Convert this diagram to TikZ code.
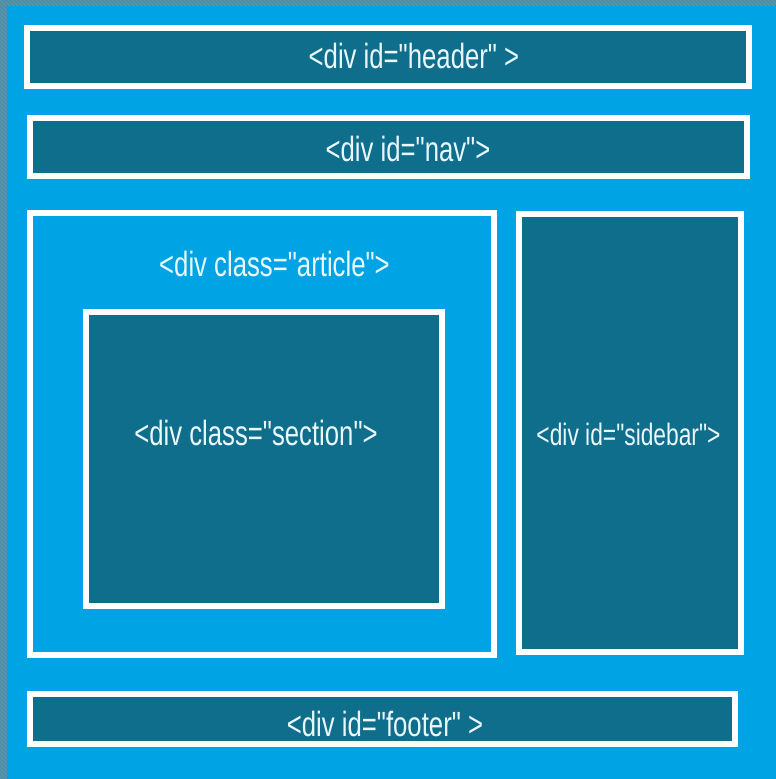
\documentclass[tikz,border=0pt]{standalone}
\usepackage{fontspec}
\newfontfamily\agency[FakeStretch=0.735]{Liberation Sans}
\definecolor{bgblue}{HTML}{00A3E3}
\definecolor{darkteal}{HTML}{0F6E8B}
\definecolor{stripe}{HTML}{4F8CA5}
\definecolor{stripe2}{HTML}{5E97AD}
\definecolor{txt}{HTML}{EAF7FD}
\begin{document}
\begin{tikzpicture}[x=1pt,y=-1pt,
  divbox/.style={draw=white,line width=6pt,fill=darkteal,inner sep=0pt},
  openbox/.style={draw=white,line width=6pt,fill=none,inner sep=0pt},
  lbl/.style={text=txt,inner sep=0pt,anchor=base,font=\agency\fontsize{35}{35}\selectfont},
  slbl/.style={lbl,font=\agency\fontsize{31}{31}\selectfont}]
\useasboundingbox (0,0) rectangle (776,779);
% frame
\fill[stripe] (0,0) rectangle (776,779);
\begin{scope}
\clip (0,0) rectangle (776,779);
\foreach \k in {-800,-796,...,800} \draw[stripe2,line width=1pt] (\k,0) -- (\k+780,780);
\end{scope}
\fill[bgblue] (7,6) rectangle (776,779);
% boxes
\node[divbox,minimum width=722pt,minimum height=58pt] (header) at (388,57) {};
\node[divbox,minimum width=717pt,minimum height=58pt] (nav) at (388.5,147) {};
\node[openbox,minimum width=464pt,minimum height=442pt] (article) at (262,434) {};
\node[divbox,minimum width=356pt,minimum height=294pt] (section) at (264,459) {};
\node[divbox,minimum width=222pt,minimum height=438pt] (sidebar) at (630,433) {};
\node[divbox,minimum width=705pt,minimum height=50pt] (footer) at (382.5,719) {};
% labels
\node[lbl] (headerlbl) at (414,68) {<div id="header" >};
\node[lbl] (navlbl) at (408,161) {<div id="nav">};
\node[lbl] (articlelbl) at (274.5,276) {<div class="article">};
\node[lbl] (sectionlbl) at (256,445) {<div class="section">};
\node[slbl] (sidebarlbl) at (628.5,445) {<div id="sidebar">};
\node[lbl] (footerlbl) at (385,736) {<div id="footer" >};
\end{tikzpicture}
\end{document}
